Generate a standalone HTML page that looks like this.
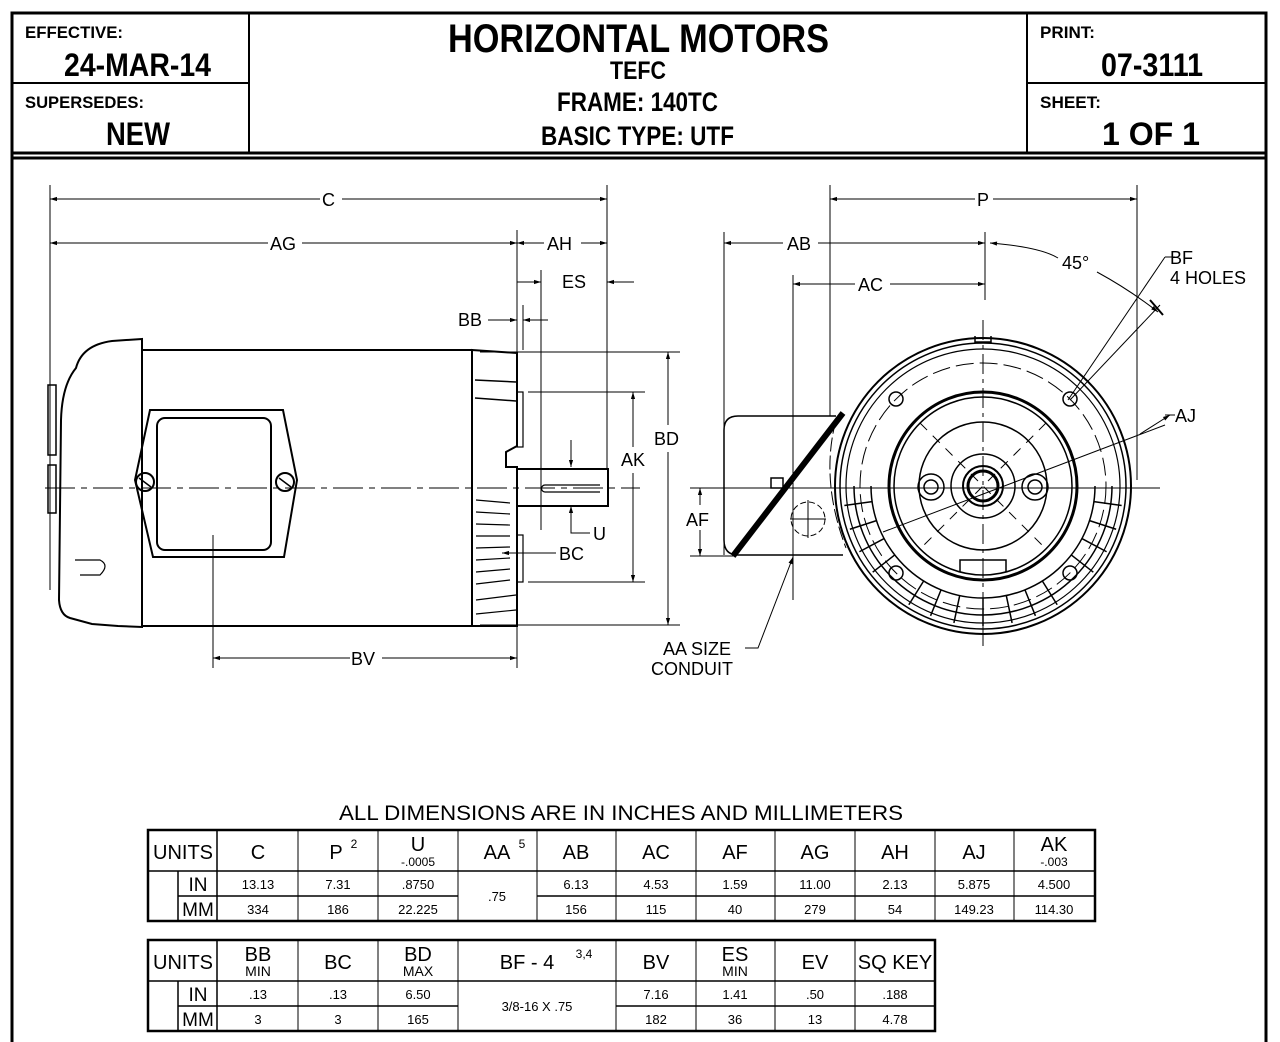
<!DOCTYPE html>
<html><head><meta charset="utf-8"><style>
html,body{margin:0;padding:0;background:#fff;}
svg{display:block;}
.n{font-family:"Liberation Sans Narrow","Liberation Sans",sans-serif;}
.s{font-family:"Liberation Sans",sans-serif;}
</style></head><body>
<svg width="1280" height="1042" viewBox="0 0 1280 1042" xmlns="http://www.w3.org/2000/svg">
<g stroke="#000" fill="none">
<rect x="12" y="13" width="1254" height="140" stroke-width="3"/>
<line x1="12" y1="158" x2="1266" y2="158" stroke-width="3"/>
<line x1="12" y1="153" x2="12" y2="1042" stroke-width="3"/>
<line x1="1266" y1="153" x2="1266" y2="1042" stroke-width="3"/>
<line x1="249" y1="13" x2="249" y2="153" stroke-width="2"/>
<line x1="1027" y1="13" x2="1027" y2="153" stroke-width="2"/>
<line x1="12" y1="83" x2="249" y2="83" stroke-width="2"/>
<line x1="1027" y1="83" x2="1266" y2="83" stroke-width="2"/>
</g>
<g class="n" font-weight="bold" fill="#000">
<text x="25" y="38" font-size="17" textLength="98" lengthAdjust="spacingAndGlyphs">EFFECTIVE:</text>
<text x="64" y="76" font-size="32" textLength="147" lengthAdjust="spacingAndGlyphs">24-MAR-14</text>
<text x="25" y="108" font-size="17" textLength="119" lengthAdjust="spacingAndGlyphs">SUPERSEDES:</text>
<text x="106" y="145" font-size="32" textLength="64" lengthAdjust="spacingAndGlyphs">NEW</text>
<text x="448" y="52" font-size="40" textLength="381" lengthAdjust="spacingAndGlyphs">HORIZONTAL MOTORS</text>
<text x="610" y="79" font-size="25" textLength="56" lengthAdjust="spacingAndGlyphs">TEFC</text>
<text x="557" y="111" font-size="27" textLength="161" lengthAdjust="spacingAndGlyphs">FRAME: 140TC</text>
<text x="541" y="145" font-size="27" textLength="193" lengthAdjust="spacingAndGlyphs">BASIC TYPE: UTF</text>
<text x="1040" y="38" font-size="17" textLength="55" lengthAdjust="spacingAndGlyphs">PRINT:</text>
<text x="1101" y="76" font-size="32" textLength="102" lengthAdjust="spacingAndGlyphs">07-3111</text>
<text x="1040" y="108" font-size="17" textLength="61" lengthAdjust="spacingAndGlyphs">SHEET:</text>
<text x="1102" y="145" font-size="32" textLength="98" lengthAdjust="spacingAndGlyphs">1  OF  1</text>
</g>

<defs>
<marker id="a" viewBox="0 0 10 10" refX="10" refY="5" markerWidth="9" markerHeight="7" orient="auto-start-reverse"><path d="M0,2 L10,5 L0,8 z" fill="#000"/></marker>
</defs>

<g stroke="#000" fill="none" stroke-width="1.5">
<line x1="50" y1="185" x2="50" y2="590" stroke-width="1"/>
<line x1="607" y1="185" x2="607" y2="470" stroke-width="1"/>
<line x1="517" y1="230" x2="517" y2="385" stroke-width="1"/>
<line x1="523" y1="305" x2="523" y2="350" stroke-width="1"/>
<line x1="541" y1="270" x2="541" y2="530" stroke-width="1"/>
<line x1="50" y1="199" x2="320" y2="199" stroke-width="1" marker-start="url(#a)"/>
<line x1="342" y1="199" x2="607" y2="199" stroke-width="1" marker-end="url(#a)"/>
<line x1="50" y1="243" x2="268" y2="243" stroke-width="1" marker-start="url(#a)"/>
<line x1="302" y1="243" x2="517" y2="243" stroke-width="1" marker-end="url(#a)"/>
<line x1="517" y1="243" x2="544" y2="243" stroke-width="1" marker-start="url(#a)"/>
<line x1="581" y1="243" x2="607" y2="243" stroke-width="1" marker-end="url(#a)"/>
<line x1="517" y1="282" x2="541" y2="282" stroke-width="1" marker-end="url(#a)"/>
<line x1="634" y1="282" x2="607" y2="282" stroke-width="1" marker-end="url(#a)"/>
<line x1="488" y1="320" x2="517" y2="320" stroke-width="1" marker-end="url(#a)"/>
<line x1="548" y1="320" x2="523" y2="320" stroke-width="1" marker-end="url(#a)"/>
<line x1="213" y1="658" x2="350" y2="658" stroke-width="1" marker-start="url(#a)"/>
<line x1="382" y1="658" x2="517" y2="658" stroke-width="1" marker-end="url(#a)"/>
<line x1="213" y1="535" x2="213" y2="668" stroke-width="1"/>
<line x1="517" y1="600" x2="517" y2="668" stroke-width="1"/>
<line x1="480" y1="352" x2="680" y2="352" stroke-width="1"/>
<line x1="480" y1="625" x2="680" y2="625" stroke-width="1"/>
<line x1="668" y1="352" x2="668" y2="425" stroke-width="1" marker-start="url(#a)"/>
<line x1="668" y1="452" x2="668" y2="625" stroke-width="1" marker-end="url(#a)"/>
<line x1="528" y1="392" x2="645" y2="392" stroke-width="1"/>
<line x1="528" y1="582" x2="645" y2="582" stroke-width="1"/>
<line x1="633" y1="392" x2="633" y2="447" stroke-width="1" marker-start="url(#a)"/>
<line x1="633" y1="473" x2="633" y2="582" stroke-width="1" marker-end="url(#a)"/>
<line x1="571" y1="440" x2="571" y2="467" stroke-width="1" marker-end="url(#a)"/>
<polyline points="571,533 571,506" stroke-width="1" marker-end="url(#a)"/>
<polyline points="571,520 571,533 590,533" stroke-width="1"/>
<line x1="556" y1="553" x2="502" y2="553" stroke-width="1" marker-end="url(#a)"/>
<line x1="45" y1="488" x2="640" y2="488" stroke-width="1" stroke-dasharray="30,6,6,6"/>
<path d="M142,339 L112,341 Q82,345 76,368 Q62,385 61,420 L59,600 Q60,615 70,618 L92,624 L118,626 L142,627 Z" stroke-width="2"/>
<rect x="48" y="385" width="8" height="70" stroke-width="1.5"/>
<rect x="48" y="465" width="8" height="48" stroke-width="1.5"/>
<path d="M75,560 L100,560 Q110,565 100,575 L80,575" stroke-width="1.2"/>
<rect x="142" y="350" width="330" height="276" stroke-width="2"/>
<path d="M472,350 L517,353 L517,446 L506,452 L506,467 L517,467 L517,626 L472,626 Z" stroke-width="2"/>
<line x1="475" y1="380" x2="516" y2="382"/>
<line x1="475" y1="398" x2="516" y2="401"/>
<rect x="517" y="392" width="6" height="55" stroke-width="1.2"/>
<rect x="517" y="535" width="6" height="47" stroke-width="1.2"/>
<g stroke-width="1.2">
<line x1="476" y1="500" x2="510" y2="503"/><line x1="476" y1="512" x2="510" y2="514"/>
<line x1="476" y1="524" x2="510" y2="525"/><line x1="476" y1="536" x2="510" y2="536"/>
<line x1="476" y1="548" x2="510" y2="547"/><line x1="476" y1="560" x2="510" y2="558"/>
<line x1="476" y1="572" x2="510" y2="569"/><line x1="476" y1="584" x2="510" y2="580"/>
<line x1="476" y1="600" x2="516" y2="595"/><line x1="476" y1="614" x2="516" y2="610"/>
</g>
<rect x="517" y="469" width="91" height="37" stroke-width="2"/>
<path d="M545,485 L600,485 M545,492 L600,492 M545,485 A3.5,3.5 0 0 0 545,492" stroke-width="1.2"/>
<path d="M150,410 L283,410 L297,480 L284,557 L153,557 L135,480 Z" stroke-width="2"/>
<rect x="157" y="418" width="114" height="132" rx="8" stroke-width="2"/>
<circle cx="145" cy="482" r="9" stroke-width="2"/>
<circle cx="285" cy="482" r="9" stroke-width="2"/>
<line x1="139" y1="478" x2="151" y2="487"/><line x1="279" y1="478" x2="291" y2="487"/>
</g>
<g class="s" font-size="18" fill="#000">
<text x="322" y="206">C</text>
<text x="270" y="250">AG</text>
<text x="547" y="250">AH</text>
<text x="562" y="288">ES</text>
<text x="458" y="326">BB</text>
<text x="351" y="665">BV</text>
<text x="654" y="445">BD</text>
<text x="621" y="466">AK</text>
<text x="593" y="540">U</text>
<text x="559" y="560">BC</text>
</g>

<g stroke="#000" fill="none" stroke-width="1">
<line x1="830" y1="185" x2="830" y2="416"/>
<line x1="1137" y1="185" x2="1137" y2="480"/>
<line x1="724" y1="232" x2="724" y2="555"/>
<line x1="793" y1="275" x2="793" y2="600"/>
<line x1="985" y1="232" x2="985" y2="300"/>
<line x1="830" y1="199" x2="975" y2="199" marker-start="url(#a)"/>
<line x1="993" y1="199" x2="1137" y2="199" marker-end="url(#a)"/>
<line x1="724" y1="243" x2="783" y2="243" marker-start="url(#a)"/>
<line x1="818" y1="243" x2="985" y2="243" marker-end="url(#a)"/>
<line x1="793" y1="284" x2="855" y2="284" marker-start="url(#a)"/>
<line x1="890" y1="284" x2="985" y2="284" marker-end="url(#a)"/>
<path d="M990,243 Q1040,247 1058,258" marker-start="url(#a)"/>
<path d="M1097,272 Q1130,290 1158,312" marker-end="url(#a)"/>
<line x1="1068" y1="400" x2="1165" y2="257"/>
<line x1="1165" y1="257" x2="1175" y2="257"/>
<line x1="1070" y1="400" x2="1160" y2="305"/>
<line x1="1150" y1="300" x2="1163" y2="315" stroke-width="2"/>
<line x1="883" y1="532" x2="1165" y2="425"/>
<line x1="1140" y1="434" x2="1170" y2="415" marker-end="url(#a)"/>
<line x1="1165" y1="415" x2="1175" y2="415"/>
<line x1="690" y1="488" x2="1160" y2="488"/>
<line x1="690" y1="556" x2="735" y2="556"/>
<line x1="700" y1="488" x2="700" y2="505" marker-start="url(#a)"/>
<line x1="700" y1="530" x2="700" y2="556" marker-end="url(#a)"/>
<polyline points="745,648 758,648 793,557" marker-end="url(#a)"/>
<line x1="983" y1="320" x2="983" y2="650" stroke-dasharray="20,5,4,5"/>
<path d="M836,416 L738,416 Q724,416 724,430 L724,540 Q724,555 738,555 L843,555" stroke-width="1.5"/>
<line x1="733" y1="556" x2="843" y2="413" stroke-width="6"/>
<rect x="771" y="478" width="12" height="10" stroke-width="1.5"/>
<circle cx="808" cy="519" r="17" stroke-dasharray="6,3"/>
<line x1="790" y1="519" x2="826" y2="519"/><line x1="808" y1="500" x2="808" y2="538"/>
<path d="M836,420 Q820,480 846,548" stroke-dasharray="14,4"/>
<circle cx="983" cy="486" r="148" stroke-width="2"/>
<circle cx="983" cy="486" r="143" stroke-width="1.5"/>
<circle cx="983" cy="486" r="137" stroke-width="1.2"/>
<circle cx="983" cy="486" r="123" stroke-dasharray="18,6"/>
<circle cx="983" cy="486" r="94" stroke-width="3"/>
<circle cx="983" cy="486" r="89" stroke-width="1.5"/>
<circle cx="983" cy="486" r="64" stroke-width="1.5"/>
<circle cx="983" cy="486" r="32" stroke-width="1.5"/>
<circle cx="983" cy="486" r="20" stroke-width="2"/>
<circle cx="983" cy="486" r="15" stroke-width="3"/>
<circle cx="896" cy="399" r="7" stroke-width="1.5"/>
<circle cx="1070" cy="399" r="7" stroke-width="1.5"/>
<circle cx="896" cy="573" r="7" stroke-width="1.5"/>
<circle cx="1070" cy="573" r="7" stroke-width="1.5"/>
<rect x="918" y="474" width="26" height="26" rx="13" stroke-width="1.5"/>
<circle cx="931" cy="487" r="7" stroke-width="1.5"/>
<rect x="1022" y="474" width="26" height="26" rx="13" stroke-width="1.5"/>
<circle cx="1035" cy="487" r="7" stroke-width="1.5"/>
<line x1="920" y1="423" x2="1046" y2="549" stroke-dasharray="10,8"/>
<line x1="1046" y1="423" x2="920" y2="549" stroke-dasharray="10,8"/>
<path d="M960,572 L960,560 L1006,560 L1006,572" stroke-width="1.5"/>
<path d="M975,336 L975,342 L991,342 L991,336" stroke-width="1.5"/>
<g stroke-width="1.5">
<line x1="1095" y1="486" x2="1123" y2="486" transform="rotate(8 983 486)"/>
<line x1="1095" y1="486" x2="1123" y2="486" transform="rotate(18 983 486)"/>
<line x1="1095" y1="486" x2="1123" y2="486" transform="rotate(28 983 486)"/>
<line x1="1095" y1="486" x2="1123" y2="486" transform="rotate(38 983 486)"/>
<line x1="1095" y1="486" x2="1123" y2="486" transform="rotate(58 983 486)"/>
<line x1="1095" y1="486" x2="1123" y2="486" transform="rotate(68 983 486)"/>
<line x1="1095" y1="486" x2="1123" y2="486" transform="rotate(78 983 486)"/>
<line x1="1095" y1="486" x2="1123" y2="486" transform="rotate(90 983 486)"/>
<line x1="1095" y1="486" x2="1123" y2="486" transform="rotate(102 983 486)"/>
<line x1="1095" y1="486" x2="1123" y2="486" transform="rotate(112 983 486)"/>
<line x1="1095" y1="486" x2="1123" y2="486" transform="rotate(122 983 486)"/>
<line x1="1095" y1="486" x2="1123" y2="486" transform="rotate(142 983 486)"/>
<line x1="1095" y1="486" x2="1123" y2="486" transform="rotate(152 983 486)"/>
<line x1="1095" y1="486" x2="1123" y2="486" transform="rotate(162 983 486)"/>
<line x1="1095" y1="486" x2="1123" y2="486" transform="rotate(172 983 486)"/>
<path d="M1095,486 A112,112 0 0 1 871,486"/>
<path d="M1112,486 A129,129 0 0 1 854,486"/>
</g>
</g>
<g class="s" font-size="18" fill="#000">
<text x="977" y="206">P</text>
<text x="787" y="250">AB</text>
<text x="858" y="291">AC</text>
<text x="1062" y="269">45°</text>
<text x="1170" y="264">BF</text>
<text x="1170" y="284">4 HOLES</text>
<text x="1175" y="422">AJ</text>
<text x="686" y="526">AF</text>
<text x="663" y="655">AA SIZE</text>
<text x="651" y="675">CONDUIT</text>
</g>

<text class="s" x="339" y="820" font-size="21" textLength="564" lengthAdjust="spacingAndGlyphs">ALL DIMENSIONS ARE IN INCHES AND MILLIMETERS</text>
<g stroke="#000" fill="none">
<rect x="148" y="830" width="947" height="91" stroke-width="2.5"/>
<line x1="148" y1="871" x2="1095" y2="871" stroke-width="1.5"/>
<line x1="178" y1="896" x2="458" y2="896" stroke-width="1.5"/>
<line x1="537" y1="896" x2="1095" y2="896" stroke-width="1.5"/>
<line x1="178" y1="871" x2="178" y2="921" stroke-width="1.5"/>
<line x1="217" y1="830" x2="217" y2="921" stroke-width="1.5"/>
<line x1="298" y1="830" x2="298" y2="921"/><line x1="378" y1="830" x2="378" y2="921"/>
<line x1="458" y1="830" x2="458" y2="921"/><line x1="537" y1="830" x2="537" y2="921"/>
<line x1="616" y1="830" x2="616" y2="921"/><line x1="696" y1="830" x2="696" y2="921"/>
<line x1="775" y1="830" x2="775" y2="921"/><line x1="855" y1="830" x2="855" y2="921"/>
<line x1="935" y1="830" x2="935" y2="921"/><line x1="1014" y1="830" x2="1014" y2="921"/>

<rect x="148" y="940" width="787" height="91" stroke-width="2.5"/>
<line x1="148" y1="981" x2="935" y2="981" stroke-width="1.5"/>
<line x1="178" y1="1006" x2="458" y2="1006" stroke-width="1.5"/>
<line x1="616" y1="1006" x2="935" y2="1006" stroke-width="1.5"/>
<line x1="178" y1="981" x2="178" y2="1031" stroke-width="1.5"/>
<line x1="217" y1="940" x2="217" y2="1031" stroke-width="1.5"/>
<line x1="298" y1="940" x2="298" y2="1031"/><line x1="378" y1="940" x2="378" y2="1031"/>
<line x1="458" y1="940" x2="458" y2="1031"/><line x1="616" y1="940" x2="616" y2="1031"/>
<line x1="696" y1="940" x2="696" y2="1031"/><line x1="775" y1="940" x2="775" y2="1031"/>
<line x1="855" y1="940" x2="855" y2="1031"/>
</g>
<g class="s" fill="#000" text-anchor="middle">
<g font-size="20">
<text x="183" y="859">UNITS</text><text x="258" y="859">C</text><text x="336" y="859">P</text>
<text x="418" y="851">U</text><text x="497" y="859">AA</text><text x="576" y="859">AB</text>
<text x="656" y="859">AC</text><text x="735" y="859">AF</text><text x="815" y="859">AG</text>
<text x="895" y="859">AH</text><text x="974" y="859">AJ</text><text x="1054" y="851">AK</text>
<text x="198" y="891" font-size="19">IN</text><text x="198" y="916" font-size="19">MM</text>
<text x="183" y="969">UNITS</text><text x="258" y="961">BB</text><text x="338" y="969">BC</text>
<text x="418" y="961">BD</text><text x="527" y="969">BF - 4</text><text x="656" y="969">BV</text>
<text x="735" y="961">ES</text><text x="815" y="969">EV</text><text x="895" y="969">SQ KEY</text>
<text x="198" y="1001" font-size="19">IN</text><text x="198" y="1026" font-size="19">MM</text>
</g>
<g font-size="12">
<text x="354" y="848">2</text><text x="522" y="848">5</text><text x="584" y="958">3,4</text>
<text x="418" y="866">-.0005</text><text x="1054" y="866">-.003</text>
<text x="258" y="976" font-size="14">MIN</text><text x="418" y="976" font-size="14">MAX</text><text x="735" y="976" font-size="14">MIN</text>
</g>
<g font-size="13">
<text x="258" y="889">13.13</text><text x="338" y="889">7.31</text><text x="418" y="889">.8750</text>
<text x="497" y="901">.75</text><text x="576" y="889">6.13</text><text x="656" y="889">4.53</text>
<text x="735" y="889">1.59</text><text x="815" y="889">11.00</text><text x="895" y="889">2.13</text>
<text x="974" y="889">5.875</text><text x="1054" y="889">4.500</text>
<text x="258" y="914">334</text><text x="338" y="914">186</text><text x="418" y="914">22.225</text>
<text x="576" y="914">156</text><text x="656" y="914">115</text><text x="735" y="914">40</text>
<text x="815" y="914">279</text><text x="895" y="914">54</text><text x="974" y="914">149.23</text>
<text x="1054" y="914">114.30</text>
<text x="258" y="999">.13</text><text x="338" y="999">.13</text><text x="418" y="999">6.50</text>
<text x="537" y="1011">3/8-16 X .75</text>
<text x="656" y="999">7.16</text><text x="735" y="999">1.41</text><text x="815" y="999">.50</text><text x="895" y="999">.188</text>
<text x="258" y="1024">3</text><text x="338" y="1024">3</text><text x="418" y="1024">165</text>
<text x="656" y="1024">182</text><text x="735" y="1024">36</text><text x="815" y="1024">13</text><text x="895" y="1024">4.78</text>
</g>
</g>
</svg>
</body></html>
